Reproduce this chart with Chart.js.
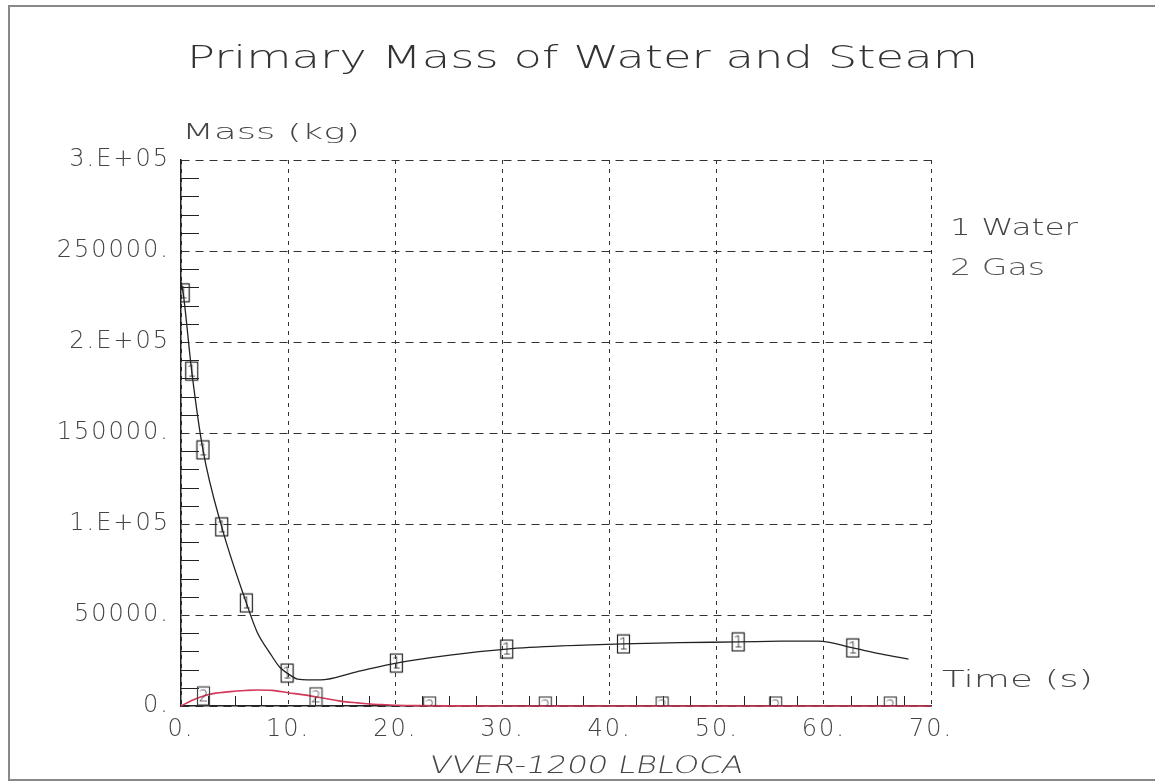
<!DOCTYPE html>
<html>
<head>
<meta charset="utf-8">
<script src="https://cdn.jsdelivr.net/npm/chart.js@4.4.1/dist/chart.umd.min.js"></script>
<style>
  html, body { margin: 0; padding: 0; background: #fff; }
</style>
</head>
<body>
<canvas id="myChart" width="1155" height="782"></canvas>
<script>
// water curve, time (s) / mass (kg)
const waterTime = [0, 0.2, 1.0, 2.05, 3.8, 6.1, 7.1, 8.3, 9.2, 9.9, 10.9, 13, 16.4, 20.1, 25.1, 30.4, 35.5, 41.3, 46.5, 52, 56, 59.5, 62.7, 65.3, 67.9];
const waterMass = [233000, 227000, 184000, 140700, 98400, 56600, 40700, 29100, 21400, 18100, 14800, 14300, 18800, 23600, 28000, 31300, 33000, 34100, 34800, 35200, 35600, 35700, 31900, 28600, 25800];

// gas curve
const gasTime = [0, 1, 2.1, 3, 4.6, 6, 7.1, 8.5, 10, 11.5, 12.7, 14, 15.2, 16.5, 17.7, 19, 20.2, 22, 25, 30, 40, 50, 60, 70];
const gasMass = [0, 3000, 5500, 6800, 7900, 8500, 8800, 8600, 7300, 6100, 4900, 3600, 2400, 1700, 1100, 700, 400, 200, 50, 0, 0, 0, 0, 0];

// curve id markers
const waterMarkTime = [0.2, 1.0, 2.05, 3.8, 6.1, 9.9, 20.1, 30.4, 41.3, 52, 62.7];
const waterMarkMass = [227000, 184000, 140700, 98400, 56600, 18100, 23600, 31300, 34100, 35200, 31900];
const gasMarkTime = [2.1, 12.6, 23.2, 34.0, 44.9, 55.5, 66.2];
const gasMarkMass = [5500, 5000, 0, 0, 0, 0, 0];

// axis ticks
const xTicks = [0, 10, 20, 30, 40, 50, 60, 70];
const xTickLabels = ['0.', '10.', '20.', '30.', '40.', '50.', '60.', '70.'];
const yTicks = [0, 50000, 100000, 150000, 200000, 250000, 300000];
const yTickLabels = ['0.', '50000.', '1.E+05', '150000.', '2.E+05', '250000.', '3.E+05'];

const FONT = '"DejaVu Sans"';

function pts(xs, ys) {
  return xs.map((x, i) => ({ x: x, y: ys[i] }));
}

function makeMarker(label, color) {
  const c = document.createElement('canvas');
  c.width = 15; c.height = 21;
  const g = c.getContext('2d');
  g.strokeStyle = color;
  g.lineWidth = 1.2;
  g.strokeRect(1.5, 1.5, 12, 18);
  g.fillStyle = color;
  g.font = '200 16px "DejaVu Sans"';
  g.textAlign = 'center';
  g.textBaseline = 'middle';
  g.fillText(label, 7.5, 11.5);
  return c;
}

// draw a string stretched sideways to a given width (the plotter font is wide)
function fitText(ctx, str, x, y, w, font, color, skew) {
  ctx.save();
  ctx.font = font;
  ctx.letterSpacing = '0px';
  const natural = ctx.measureText(str).width;
  ctx.translate(x, y);
  if (skew) ctx.transform(1, 0, -skew, 1, 0, 0);
  ctx.scale(w / natural, 1);
  ctx.fillStyle = color;
  ctx.textAlign = 'left';
  ctx.textBaseline = 'alphabetic';
  ctx.fillText(str, 0, 0);
  ctx.restore();
}

const decor = {
  id: 'decor',
  beforeDraw(chart) {
    const ctx = chart.ctx;
    ctx.save();
    ctx.fillStyle = '#fff';
    ctx.fillRect(0, 0, chart.width, chart.height);
    ctx.strokeStyle = '#888';
    ctx.lineWidth = 2;
    ctx.strokeRect(9, 6, 1200, 774);
    ctx.restore();
    ctx.letterSpacing = '2px';
  },
  beforeDatasetsDraw(chart) {
    const ctx = chart.ctx;
    const x = chart.scales.x, y = chart.scales.y;
    const a = chart.chartArea;
    ctx.save();
    ctx.strokeStyle = '#222';
    ctx.lineWidth = 1;
    ctx.beginPath();
    for (let v = 10000; v < 300000; v += 10000) {
      if (v % 50000 === 0) continue;
      const py = Math.round(y.getPixelForValue(v)) + 0.5;
      ctx.moveTo(a.left, py);
      ctx.lineTo(a.left + 18, py);
    }
    for (let t = 2.5; t < 70; t += 2.5) {
      if (t % 10 === 0) continue;
      const px = Math.round(x.getPixelForValue(t)) + 0.5;
      ctx.moveTo(px, a.bottom);
      ctx.lineTo(px, a.bottom - 10);
    }
    ctx.stroke();
    ctx.restore();
  },
  afterDraw(chart) {
    const ctx = chart.ctx;
    ctx.letterSpacing = '0px';
    fitText(ctx, 'Primary Mass of Water and Steam', 187, 68, 791, '200 32px ' + FONT, '#333');
    fitText(ctx, 'Mass (kg)', 182, 139, 178, '200 21px ' + FONT, '#444');
    fitText(ctx, 'Time (s)', 942, 687, 151, '200 23px ' + FONT, '#444');
    fitText(ctx, '1 Water', 950, 235, 128, '200 23px ' + FONT, '#444');
    fitText(ctx, '2 Gas', 950, 275, 95, '200 23px ' + FONT, '#555');
    fitText(ctx, 'VVER-1200 LBLOCA', 428, 773, 314, '200 24px ' + FONT, '#444', 0.2);
  }
};

const ctx = document.getElementById('myChart');
const myChart = new Chart(ctx, {
  type: 'line',
  data: {
    datasets: [
      {
        label: 'Water marks',
        data: pts(waterMarkTime, waterMarkMass),
        showLine: false,
        pointStyle: makeMarker('1', '#222'),
        pointRadius: 7
      },
      {
        label: 'Gas marks',
        data: pts(gasMarkTime, gasMarkMass),
        showLine: false,
        pointStyle: makeMarker('2', '#444'),
        pointRadius: 7
      },
      {
        label: 'Water',
        data: pts(waterTime, waterMass),
        borderColor: '#222',
        borderWidth: 1.3,
        pointRadius: 0,
        cubicInterpolationMode: 'monotone'
      },
      {
        label: 'Gas',
        data: pts(gasTime, gasMass),
        borderColor: '#d2385a',
        borderWidth: 1.6,
        pointRadius: 0,
        clip: 4,
        cubicInterpolationMode: 'monotone'
      }
    ]
  },
  options: {
    responsive: false,
    animation: false,
    events: [],
    layout: { padding: { left: 0, right: 224, top: 160, bottom: 0 } },
    scales: {
      x: {
        type: 'linear',
        min: 0,
        max: 70,
        afterFit: s => { s.height = 76; },
        afterBuildTicks: s => { s.ticks = xTicks.map(v => ({ value: v })); },
        ticks: {
          padding: 9,
          color: '#444',
          font: { family: FONT, size: 24, weight: 200 },
          maxRotation: 0,
          callback: (v) => xTickLabels[xTicks.indexOf(v)]
        },
        grid: { color: '#333', lineWidth: 1, drawTicks: false },
        border: { color: '#222', width: 1.5, dash: [4, 5] }
      },
      y: {
        min: 0,
        max: 300000,
        afterFit: s => { s.width = 181; },
        afterBuildTicks: s => { s.ticks = yTicks.map(v => ({ value: v })); },
        ticks: {
          padding: 11,
          color: '#444',
          font: { family: FONT, size: 24, weight: 200 },
          callback: (v) => yTickLabels[yTicks.indexOf(v)]
        },
        grid: { color: '#333', lineWidth: 1, drawTicks: false },
        border: { color: '#222', width: 1.5, dash: [8, 6] }
      }
    },
    plugins: {
      legend: { display: false },
      tooltip: { enabled: false }
    }
  },
  plugins: [decor]
});
</script>
</body>
</html>
